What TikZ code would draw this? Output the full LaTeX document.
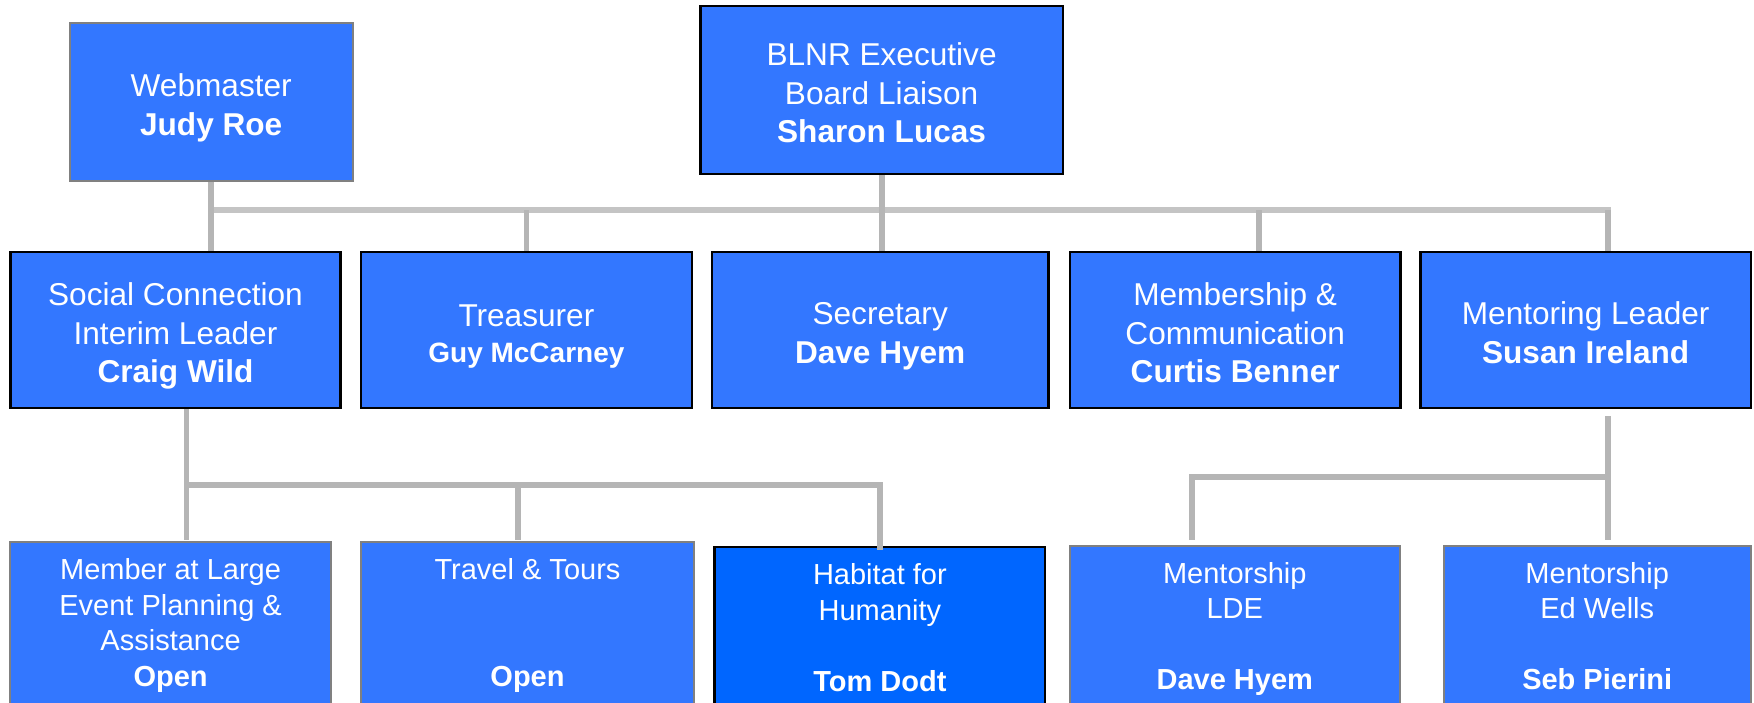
\documentclass[tikz,border=0pt]{standalone}
\usepackage{fontspec}
\setmainfont{Liberation Sans}
\usepackage{tikz}
\usetikzlibrary{positioning}
\definecolor{boxblue}{HTML}{3377FF}
\definecolor{habblue}{HTML}{0066FF}
\definecolor{rimgray}{HTML}{808080}
\definecolor{linkgray}{HTML}{B5B5B5}
\definecolor{busgray}{HTML}{C4C4C4}
\tikzset{
  orgbox/.style={draw, fill=boxblue, text=white, align=center, inner sep=0pt},
  topfont/.style={font=\fontsize{31.6}{38.5}\selectfont, text depth=0pt},
  twolines/.style={text height=66.5pt},
  threelines/.style={text height=105pt},
  lowfont/.style={font=\fontsize{29}{35.5}\selectfont, text depth=6.1pt},
  headbox/.style={orgbox, topfont, draw=black, line width=2.6pt, minimum height=156pt},
  sidebox/.style={orgbox, topfont, draw=rimgray, line width=2pt},
  lowbox/.style={orgbox, lowfont, draw=rimgray, line width=2pt, anchor=north, minimum height=167pt},
  link/.style={draw=linkgray, line width=5.8pt},
  bus/.style={draw=busgray, line width=5.4pt, line cap=rect}
}
\begin{document}
\begin{tikzpicture}[x=1pt, y=-1pt]
\useasboundingbox (0,0) rectangle (1754,702);

\node[sidebox, twolines, minimum width=283.2pt, minimum height=158pt] at (211.2,102)(web){Webmaster\\\textbf{Judy Roe}};
\node[headbox, threelines, minimum width=362.7pt, minimum height=168pt] at (881.6,90)(blnr){BLNR Executive\\Board Liaison\\\textbf{Sharon Lucas}};

\node[headbox, threelines, minimum width=330.3pt] at (175.5,330)(soc){Social Connection\\Interim Leader\\\textbf{Craig Wild}};
\node[headbox, text height=64pt, minimum width=330.8pt] at (526.4,330)(tre){Treasurer\\[-2.5pt]{\fontsize{28}{36}\selectfont\bfseries Guy McCarney}};
\node[headbox, twolines, minimum width=336.5pt] at (880.2,330)(sec){Secretary\\\textbf{Dave Hyem}};
\node[headbox, threelines, minimum width=330.4pt] at (1235.2,330)(mem){Membership \&\\Communication\\\textbf{Curtis Benner}};
\node[headbox, twolines, minimum width=330.6pt] at (1585.7,330)(ment){Mentoring Leader\\\textbf{Susan Ireland}};

\node[lowbox, minimum width=320.7pt] at (170.6,541)(mal){Member at Large\\Event Planning \&\\Assistance\\\textbf{Open}};
\node[lowbox, minimum width=333pt] at (527.5,541)(trav){Travel \& Tours\\ \\ \\\textbf{Open}};
\node[lowbox, minimum width=330.3pt, fill=habblue, draw=black, line width=2.6pt] at (879.9,545.7)(hab){Habitat for\\Humanity\\ \\\textbf{Tom Dodt}};
\node[lowbox, minimum width=329.5pt] at (1234.8,544.5)(lde){Mentorship\\LDE\\ \\\textbf{Dave Hyem}};
\node[lowbox, minimum width=307.2pt] at (1597.2,544.5)(edw){Mentorship\\Ed Wells\\ \\\textbf{Seb Pierini}};

\coordinate (topbus) at (0,210);
\coordinate (midbus) at (0,484.8);
\coordinate (rightbus) at (0,477.3);
\coordinate (lowend) at (0,540);
\coordinate (mementry) at ([xshift=23.4pt]mem.north);
\coordinate (mententry) at ([xshift=22.3pt]ment.north);
\coordinate (socexit) at ([xshift=11pt]soc.south);
\coordinate (travin) at ([xshift=-9.5pt]trav.north);
\coordinate (mentexit) at ([xshift=22.3pt,yshift=-7pt]ment.south);
\coordinate (ldein) at ([xshift=-42.8pt]lde.north);

\draw[bus] (web.south |- topbus) -- (mententry |- topbus);
\draw[link] (web.south) -- (web.south |- soc.north);
\draw[link] (blnr.south) -- (blnr.south |- sec.north);
\draw[link] (tre.north |- topbus) -- (tre.north);
\draw[link] (mementry |- topbus) -- (mementry);
\draw[link] (mententry |- topbus) -- (mententry);

\draw[link] (socexit) -- (socexit |- lowend);
\draw[link] (socexit |- midbus) -- (hab.north |- midbus) -- ([yshift=-4.3pt]hab.north);
\draw[link] (travin |- midbus) -- (travin |- lowend);

\draw[link] (mentexit) -- (mentexit |- lowend);
\draw[link] (ldein |- lowend) -- (ldein |- rightbus) -- (mentexit |- rightbus);
\end{tikzpicture}
\end{document}
